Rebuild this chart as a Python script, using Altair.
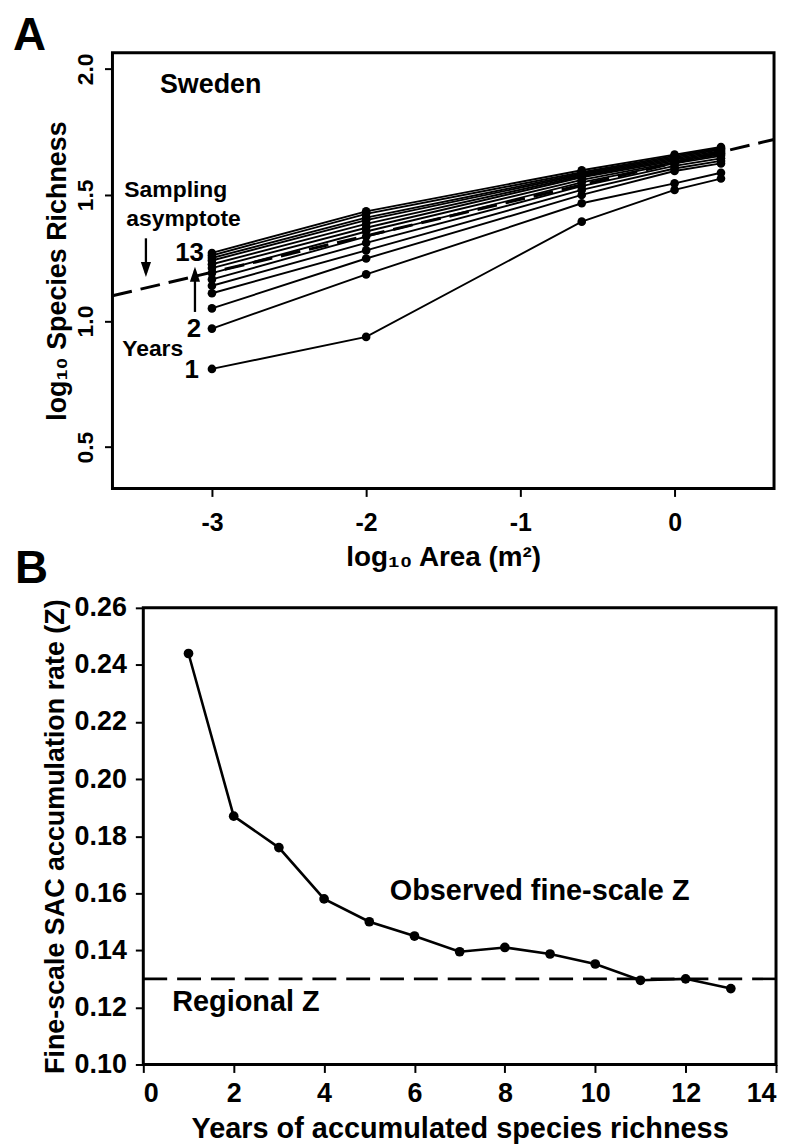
import altair as alt
import pandas as pd

# ---------------- Panel A data ----------------
log_area = [-3.0, -2.0, -0.602, 0.0, 0.301]
years = list(range(1, 14))
rich_at_m3 = [0.81, 0.97, 1.05, 1.11, 1.14, 1.165, 1.19, 1.21, 1.225, 1.24, 1.25, 1.26, 1.27]
rich_at_m2 = [0.937, 1.185, 1.248, 1.28, 1.31, 1.335, 1.355, 1.37, 1.385, 1.40, 1.41, 1.425, 1.435]
rich_at_m06 = [1.394, 1.467, 1.50, 1.52, 1.535, 1.55, 1.56, 1.57, 1.575, 1.58, 1.585, 1.59, 1.598]
rich_at_0 = [1.52, 1.546, 1.595, 1.605, 1.615, 1.625, 1.63, 1.635, 1.64, 1.645, 1.65, 1.655, 1.66]
rich_at_03 = [1.565, 1.588, 1.625, 1.635, 1.645, 1.655, 1.66, 1.665, 1.67, 1.675, 1.68, 1.685, 1.69]
asym_x = [-3.645, 0.645]
asym_y = [1.10, 1.72]
xticks_a = [-3, -2, -1, 0]
yticks_a = [0.5, 1.0, 1.5, 2.0]
xdom_a = [-3.645, 0.645]
ydom_a = [0.336, 2.064]

# ---------------- Panel B data ----------------
z_years = list(range(1, 14))
z_values = [0.244, 0.187, 0.176, 0.158, 0.150, 0.145, 0.1395, 0.141, 0.1387,
            0.1352, 0.1295, 0.130, 0.1266]
regional_z = [0.13]
xticks_b = [0, 2, 4, 6, 8, 10, 12, 14]
yticks_b = [0.10, 0.12, 0.14, 0.16, 0.18, 0.20, 0.22, 0.24, 0.26]
xdom_b = [0, 14]
ydom_b = [0.10, 0.26]

FONT = "Liberation Sans, Arial, sans-serif"

cols = [rich_at_m3, rich_at_m2, rich_at_m06, rich_at_0, rich_at_03]
rows = []
for yi, yr in enumerate(years):
    for ai, a in enumerate(log_area):
        rows.append({"area": a, "rich": cols[ai][yi], "year": yr})
df_a = pd.DataFrame(rows)
df_asym = pd.DataFrame({"area": asym_x, "rich": asym_y})

xs_a = alt.Scale(domain=xdom_a, nice=False, zero=False)
ys_a = alt.Scale(domain=ydom_a, nice=False, zero=False)

x_axis_a = alt.Axis(values=xticks_a, labelExpr="'' + datum.value", grid=False, domain=False,
                    tickSize=8, tickWidth=2, tickColor="black", labelFont=FONT, labelFontSize=25,
                    labelFontWeight="bold", labelColor="black", labelPadding=14,
                    title="log\u2081\u2080 Area (m\u00b2)", titleFont=FONT, titleFontSize=28,
                    titleFontWeight="bold", titleColor="black", titlePadding=8)
y_axis_a = alt.Axis(values=yticks_a, format=".1f", grid=False, domain=False, tickSize=8,
                    tickWidth=2, tickColor="black", labelFont=FONT, labelFontSize=23,
                    labelFontWeight="bold", labelColor="black", labelAngle=270,
                    labelAlign="center", labelBaseline="alphabetic", labelPadding=12,
                    title="log\u2081\u2080 Species Richness", titleFont=FONT, titleFontSize=27,
                    titleFontWeight="bold", titleColor="black", titlePadding=3)

base_a = alt.Chart(df_a).encode(
    x=alt.X("area:Q", scale=xs_a, axis=x_axis_a),
    y=alt.Y("rich:Q", scale=ys_a, axis=y_axis_a),
)
lines_a = base_a.mark_line(color="black", strokeWidth=1.9).encode(detail="year:N")
pts_a = base_a.mark_circle(color="black", opacity=1, size=75)
asym = alt.Chart(df_asym).mark_line(color="black", strokeWidth=3, strokeDash=[20, 9]).encode(
    x=alt.X("area:Q", scale=xs_a), y=alt.Y("rich:Q", scale=ys_a))

frame_a = alt.Chart(pd.DataFrame({"k": [0]})).mark_rect(
    fillOpacity=0, stroke="black", strokeWidth=3).encode(
    x=alt.datum(xdom_a[0], scale=xs_a), x2=alt.datum(xdom_a[1]),
    y=alt.datum(ydom_a[0], scale=ys_a), y2=alt.datum(ydom_a[1]))

ann_a = pd.DataFrame({
    "x": [-3.008, -3.568, -3.555, -3.052, -3.07, -3.384, -3.084],
    "y": [1.934, 1.521, 1.406, 1.271, 0.970, 0.890, 0.806],
    "t": ["Sweden", "Sampling", "asymptote", "13", "2", "Years", "1"],
    "al": ["center", "left", "left", "right", "right", "center", "right"],
    "fs": [27, 23, 23, 26, 26, 23, 26],
})

def txt(sub, align, size):
    return alt.Chart(sub).mark_text(align=align, baseline="middle", fontSize=size,
                                    fontWeight="bold", font=FONT, color="black").encode(
        x=alt.X("x:Q", scale=xs_a), y=alt.Y("y:Q", scale=ys_a), text="t:N")

text_layers = []
for (al, fs), sub in ann_a.groupby(["al", "fs"]):
    text_layers.append(txt(sub, al, int(fs)))

arrows = pd.DataFrame({"x": [-3.428, -3.11], "y1": [1.328, 1.036], "y2": [1.19, 1.20]})
tips = pd.DataFrame({"x": [-3.428, -3.11], "y": [1.175, 1.215]})
arrow_shafts = alt.Chart(arrows).mark_rule(color="black", strokeWidth=2.3).encode(
    x=alt.X("x:Q", scale=xs_a), y=alt.Y("y1:Q", scale=ys_a), y2="y2:Q")
down_head = alt.Chart(tips.iloc[[0]]).mark_point(
    shape="M-0.34,-1L0.34,-1L0,0Z", filled=True, size=900, color="black", opacity=1,
    strokeWidth=0).encode(x=alt.X("x:Q", scale=xs_a), y=alt.Y("y:Q", scale=ys_a))
up_head = alt.Chart(tips.iloc[[1]]).mark_point(
    shape="M-0.34,1L0.34,1L0,0Z", filled=True, size=900, color="black", opacity=1,
    strokeWidth=0).encode(x=alt.X("x:Q", scale=xs_a), y=alt.Y("y:Q", scale=ys_a))

letter_a = alt.Chart(pd.DataFrame({"t": ["A"]})).mark_text(
    align="left", baseline="alphabetic", fontSize=46, fontWeight="bold", font=FONT,
    color="black").encode(x=alt.value(-100), y=alt.value(-3), text="t:N")
anchor_a = alt.Chart(pd.DataFrame({"t": [0]})).mark_rule(strokeOpacity=0, strokeWidth=0).encode(
    x=alt.value(-105), x2=alt.value(-104), y=alt.value(-42), y2=alt.value(-41))

chart_a = alt.layer(asym, lines_a, pts_a, *text_layers, arrow_shafts, down_head, up_head,
                    frame_a, letter_a, anchor_a).properties(width=665, height=438)

# ---------------- Panel B ----------------
df_b = pd.DataFrame({"year": z_years, "z": z_values})
xs_b = alt.Scale(domain=xdom_b, nice=False, zero=False, range=[31, 667])
ys_b = alt.Scale(domain=ydom_b, nice=False, zero=False)
x_axis_b = alt.Axis(values=xticks_b, format="d", grid=False, domain=False, tickSize=8,
                    tickWidth=2, tickColor="black", labelFont=FONT, labelFontSize=27,
                    labelFontWeight="bold", labelColor="black", labelPadding=8,
                    title="Years of accumulated species richness", titleFont=FONT,
                    titleFontSize=29, titleFontWeight="bold", titleColor="black",
                    titlePadding=8)
y_axis_b = alt.Axis(values=yticks_b, format=".2f", grid=False, domain=False, tickSize=8,
                    tickWidth=2, tickColor="black", labelFont=FONT, labelFontSize=27,
                    labelFontWeight="bold", labelColor="black", labelPadding=9, offset=-31,
                    title="Fine-scale SAC accumulation rate (Z)", titleFont=FONT,
                    titleFontSize=27, titleFontWeight="bold", titleColor="black",
                    titlePadding=5)
base_b = alt.Chart(df_b).encode(
    x=alt.X("year:Q", scale=xs_b, axis=x_axis_b),
    y=alt.Y("z:Q", scale=ys_b, axis=y_axis_b),
)
line_b = base_b.mark_line(color="black", strokeWidth=2.6)
pts_b = base_b.mark_circle(color="black", opacity=1, size=95)
reg = alt.Chart(pd.DataFrame({"z": regional_z})).mark_rule(
    color="black", strokeWidth=2.6, strokeDash=[24, 10]).encode(
    x=alt.datum(xdom_b[0], scale=xs_b), x2=alt.datum(xdom_b[1]),
    y=alt.Y("z:Q", scale=ys_b))
frame_b = alt.Chart(pd.DataFrame({"k": [0]})).mark_rect(
    fillOpacity=0, stroke="black", strokeWidth=3).encode(
    x=alt.datum(xdom_b[0], scale=xs_b), x2=alt.datum(xdom_b[1]),
    y=alt.datum(ydom_b[0], scale=ys_b), y2=alt.datum(ydom_b[1]))
ann_b = pd.DataFrame({"x": [8.77, 2.27], "y": [0.1606, 0.1218],
                      "t": ["Observed fine-scale Z", "Regional Z"]})
txt_b = alt.Chart(ann_b).mark_text(align="center", baseline="middle", fontSize=29,
                                   fontWeight="bold", font=FONT, color="black").encode(
    x=alt.X("x:Q", scale=xs_b), y=alt.Y("y:Q", scale=ys_b), text="t:N")
letter_b = alt.Chart(pd.DataFrame({"t": ["B"]})).mark_text(
    align="left", baseline="alphabetic", fontSize=46, fontWeight="bold", font=FONT,
    color="black").encode(x=alt.value(-98), y=alt.value(-25), text="t:N")

chart_b = alt.layer(reg, line_b, pts_b, txt_b, frame_b, letter_b).properties(
    width=667, height=459)

chart = alt.concat(chart_a, chart_b, columns=1, spacing=120, bounds="flush").properties(
    padding={"left": 0, "top": 0, "right": 0, "bottom": 0}
).configure_view(strokeOpacity=0).configure_axis(labelLimit=0)

chart.save("out.html", embed_options={"renderer": "svg", "actions": False})
